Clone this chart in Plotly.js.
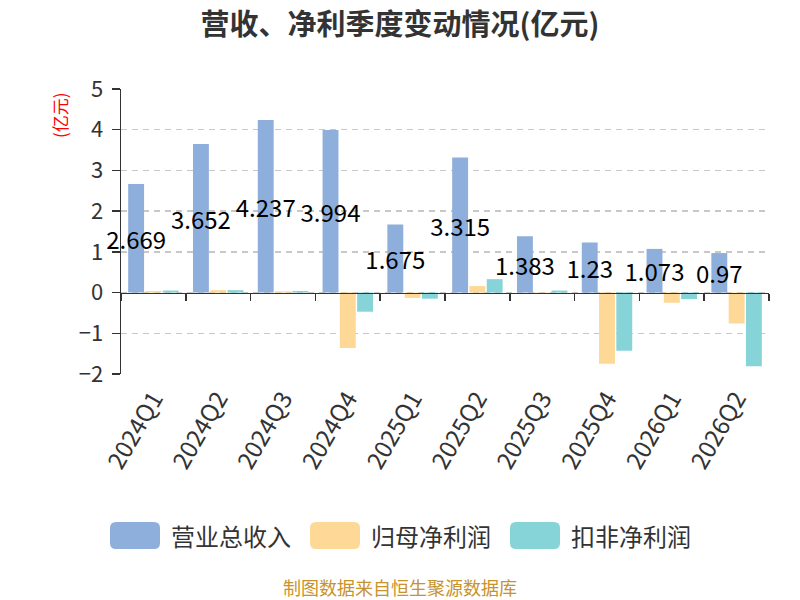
<!DOCTYPE html>
<html>
<head>
<meta charset="utf-8">
<script src="https://cdn.plot.ly/plotly-3.0.1.min.js"></script>
<style>
  html, body { margin: 0; padding: 0; background: #fff; }
  #chart { width: 800px; height: 600px; }
</style>
</head>
<body>
<div id="chart"></div>
<script>
// quarterly data (亿元)
const quarters = ['2024Q1', '2024Q2', '2024Q3', '2024Q4', '2025Q1', '2025Q2', '2025Q3', '2025Q4', '2026Q1', '2026Q2'];
const revenue = [2.669, 3.652, 4.237, 3.994, 1.675, 3.315, 1.383, 1.23, 1.073, 0.97];
const netProfit = [0.04, 0.06, 0.03, -1.36, -0.13, 0.16, 0.01, -1.75, -0.25, -0.76];
const deductedProfit = [0.05, 0.06, 0.04, -0.47, -0.15, 0.33, 0.05, -1.43, -0.16, -1.81];
const seriesNames = ['营业总收入', '归母净利润', '扣非净利润'];
const seriesColors = ['#8eaedb', '#fed897', '#87d4d8'];

const FONT = '"Noto Sans CJK SC", "Noto Sans", sans-serif';
const W = 800, H = 600;
const margin = { l: 121, r: 31, t: 89, b: 226 };
const plotW = W - margin.l - margin.r;
const plotH = H - margin.t - margin.b;
const yRange = [-2, 5];

// pixel -> paper helpers for the hand-made legend
const px = x => (x - margin.l) / plotW;
const py = y => (H - margin.b - y) / plotH;

function roundRect(x, y, w, h, r) {
    const rx = r / plotW, ry = r / plotH;
    const x0 = px(x), x1 = px(x + w), y0 = py(y), y1 = py(y + h);
    return `M${x0 + rx},${y0} L${x1 - rx},${y0} Q${x1},${y0} ${x1},${y0 - ry} ` +
        `L${x1},${y1 + ry} Q${x1},${y1} ${x1 - rx},${y1} L${x0 + rx},${y1} ` +
        `Q${x0},${y1} ${x0},${y1 + ry} L${x0},${y0 - ry} Q${x0},${y0} ${x0 + rx},${y0} Z`;
}

const traces = [
    {
        type: 'bar', name: seriesNames[0], x: quarters, y: revenue,
        marker: { color: seriesColors[0] },
        text: revenue.map(String),
        textposition: 'inside',
        insidetextanchor: 'middle',
        constraintext: 'none',
        textangle: 0,
        insidetextfont: { family: FONT, size: 24, color: '#000' },
        cliponaxis: false,
        hoverinfo: 'x+y'
    },
    {
        type: 'bar', name: seriesNames[1], x: quarters, y: netProfit,
        marker: { color: seriesColors[1] }, hoverinfo: 'x+y'
    },
    {
        type: 'bar', name: seriesNames[2], x: quarters, y: deductedProfit,
        marker: { color: seriesColors[2] }, hoverinfo: 'x+y'
    },
    // carrier for the category axis drawn at y = 0
    {
        type: 'scatter', mode: 'markers', x: quarters, y: quarters.map(() => null),
        xaxis: 'x2', showlegend: false, hoverinfo: 'skip'
    }
];

const legendX = [110, 310, 510];
const shapes = [];
const annotations = [];
seriesNames.forEach((name, i) => {
    shapes.push({
        type: 'path', xref: 'paper', yref: 'paper',
        path: roundRect(legendX[i], 522, 50, 27, 6),
        fillcolor: seriesColors[i], line: { width: 0 }
    });
    annotations.push({
        xref: 'paper', yref: 'paper', x: px(legendX[i] + 59), y: py(535),
        xanchor: 'left', yanchor: 'middle', showarrow: false,
        text: name, font: { family: FONT, size: 24, color: '#333' }
    });
});

annotations.push({
    xref: 'paper', yref: 'paper', x: px(60), y: py(115),
    xanchor: 'center', yanchor: 'middle', showarrow: false, textangle: -90,
    text: '(亿元)', font: { family: FONT, size: 17, color: '#ff0000' }
});
annotations.push({
    xref: 'paper', yref: 'paper', x: px(400), y: py(587),
    xanchor: 'center', yanchor: 'middle', showarrow: false, borderpad: 0,
    text: '制图数据来自恒生聚源数据库', font: { family: FONT, size: 18, color: '#c8922c' }
});

const layout = {
    width: W, height: H,
    margin: margin,
    paper_bgcolor: '#fff',
    plot_bgcolor: '#fff',
    font: { family: FONT, color: '#333' },
    title: {
        text: '营收、净利季度变动情况(亿元)',
        x: 0.5, xref: 'container', xanchor: 'center',
        y: 1 - 25 / H, yref: 'container', yanchor: 'middle',
        font: { family: FONT, size: 29, color: '#333', weight: 'bold' }
    },
    barmode: 'group',
    bargap: 0.2,
    bargroupgap: 0.08,
    showlegend: false,
    xaxis: {
        type: 'category', categoryorder: 'array', categoryarray: quarters,
        range: [-0.5, quarters.length - 0.5],
        showline: false, showgrid: false, zeroline: false, ticks: '',
        tickangle: -60, ticklabelstandoff: 5,
        tickfont: { family: FONT, size: 24, color: '#333' }
    },
    xaxis2: {
        type: 'category', categoryorder: 'array', categoryarray: quarters,
        range: [-0.5, quarters.length - 0.5],
        overlaying: 'x', anchor: 'free',
        position: (0 - yRange[0]) / (yRange[1] - yRange[0]),
        showline: true, linecolor: '#333', linewidth: 1.5,
        ticks: 'outside', tickson: 'boundaries', ticklen: 7, tickwidth: 1.5, tickcolor: '#333',
        showticklabels: false, showgrid: false, zeroline: false
    },
    yaxis: {
        range: yRange, dtick: 1, tick0: 0,
        showline: true, linecolor: '#333', linewidth: 1.5,
        ticks: 'outside', ticklen: 8, tickwidth: 1.5, tickcolor: '#333',
        ticklabelstandoff: 4,
        showgrid: true, gridcolor: '#c8c8c8', gridwidth: 1.5, griddash: '6px,5px',
        zeroline: false,
        tickfont: { family: FONT, size: 22, color: '#333' }
    },
    shapes: shapes,
    annotations: annotations
};

Plotly.newPlot('chart', traces, layout, { displayModeBar: false, staticPlot: true });
</script>
</body>
</html>
